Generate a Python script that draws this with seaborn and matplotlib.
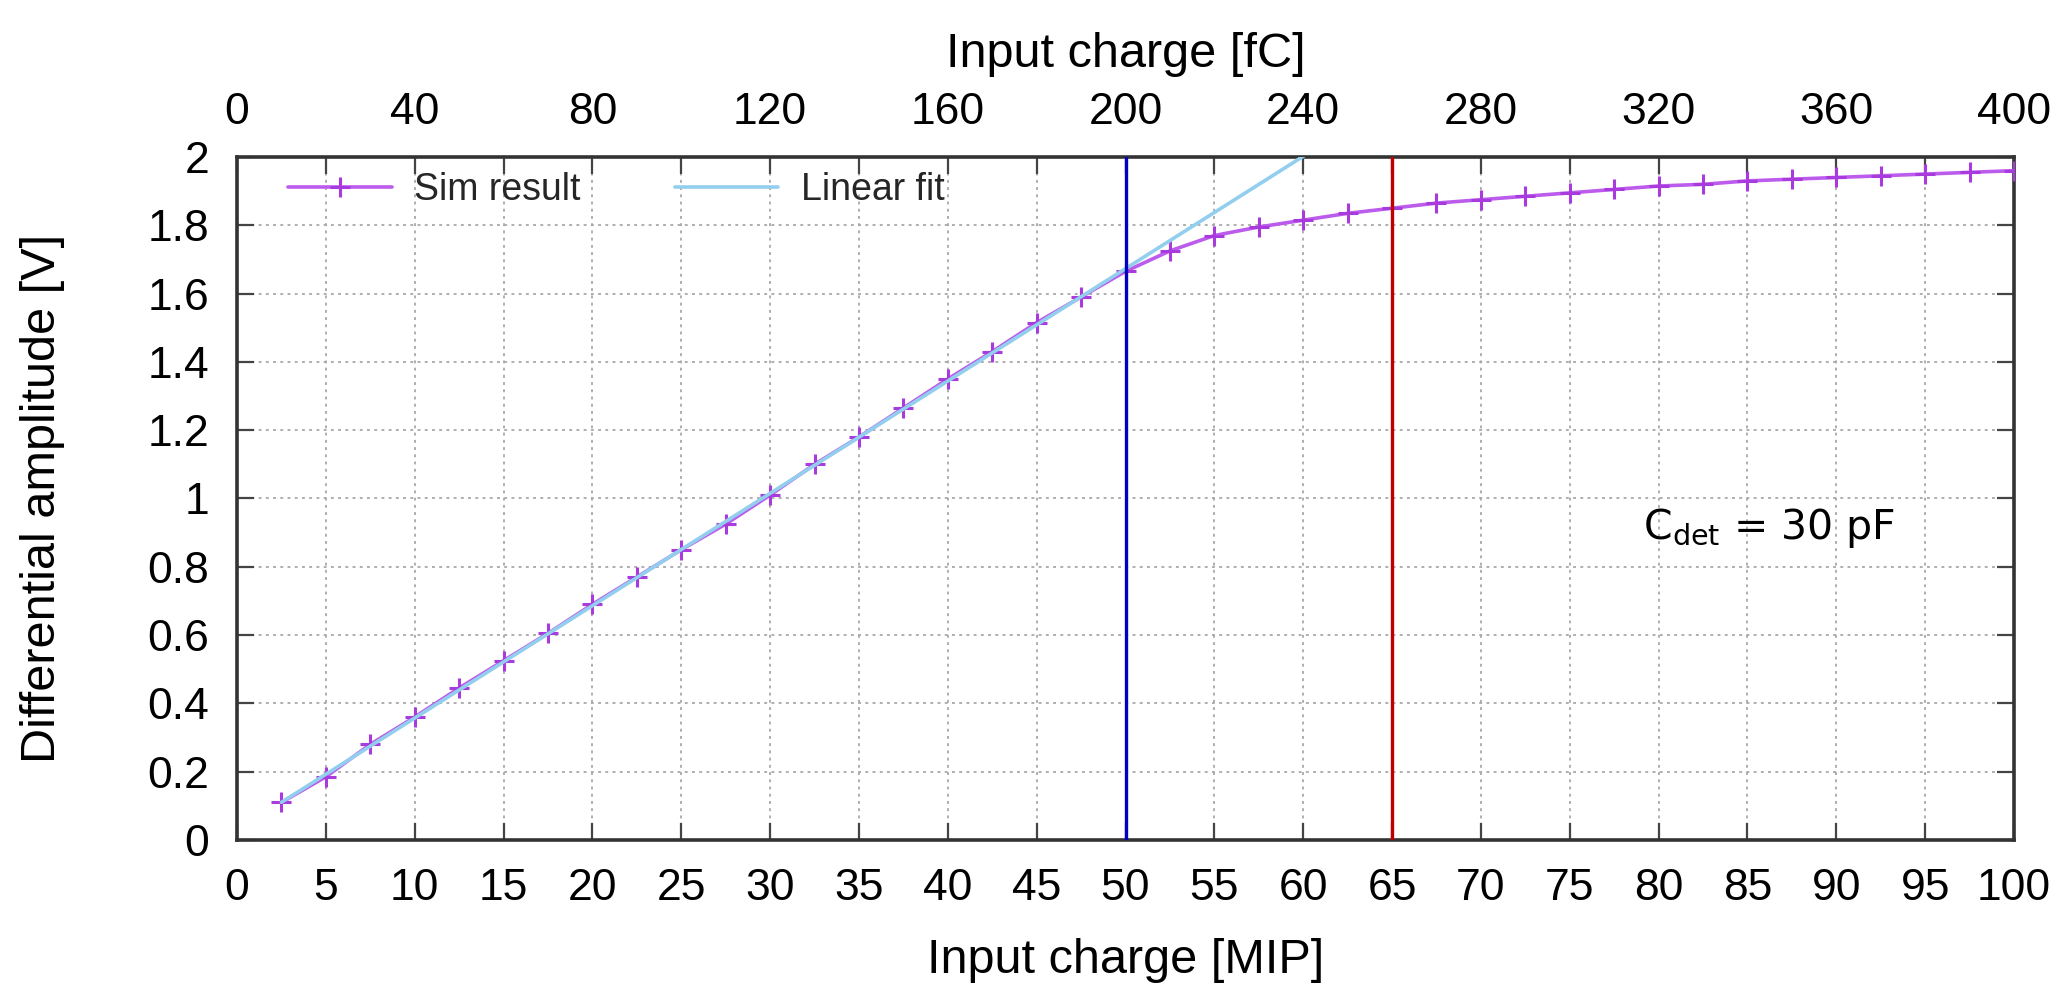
import numpy as np
import pandas as pd
import matplotlib.pyplot as plt
import seaborn as sns

sns.set_theme(style="ticks")
plt.rcParams['font.family'] = ['Liberation Sans', 'DejaVu Sans']

# simulated amplitude vs input charge (MIP)
charge_mip = [2.5, 5, 7.5, 10, 12.5, 15, 17.5, 20, 22.5, 25, 27.5, 30, 32.5, 35, 37.5,
              40, 42.5, 45, 47.5, 50, 52.5, 55, 57.5, 60, 62.5, 65, 67.5, 70, 72.5, 75,
              77.5, 80, 82.5, 85, 87.5, 90, 92.5, 95, 97.5, 100]
amplitude_v = [0.11, 0.185, 0.28, 0.36, 0.445, 0.525, 0.605, 0.69, 0.77, 0.85, 0.925, 1.01,
               1.10, 1.18, 1.265, 1.35, 1.43, 1.515, 1.59, 1.665, 1.725, 1.77, 1.795, 1.815,
               1.835, 1.85, 1.865, 1.875, 1.885, 1.895, 1.905, 1.915, 1.92, 1.93, 1.935,
               1.94, 1.945, 1.95, 1.955, 1.96]
fit_slope = 0.0329
fit_intercept = 0.028
fit_range = [2.5, 62]
mip_to_fc = 4.0
vlines_mip = [50, 65]
vline_colors = ['#0000c0', '#c00000']

df = pd.DataFrame({'MIP': charge_mip, 'Amp': amplitude_v})
fit_x = np.array(fit_range)
fit_df = pd.DataFrame({'MIP': fit_x, 'Amp': fit_slope * fit_x + fit_intercept})

fig = plt.figure(figsize=(20.68, 9.88), dpi=100)
ax = fig.add_axes([0.1146, 0.1498, 0.8593, 0.6913])

sim_col = '#bc5cec'
sns.lineplot(data=df, x='MIP', y='Amp', ax=ax, color=sim_col, lw=2.6,
             marker='+', markersize=15, markeredgewidth=2.2, markeredgecolor='#a83ade',
             label='Sim result', zorder=3)
sns.lineplot(data=fit_df, x='MIP', y='Amp', ax=ax, color='#92cfee', lw=2.6,
             label='Linear fit', zorder=4)
for xv, c in zip(vlines_mip, vline_colors):
    ax.axvline(xv, color=c, lw=2.4, zorder=5)

ax.set_xlim(0, 100)
ax.set_ylim(0, 2)
ax.set_xticks(np.arange(0, 101, 5))
ax.set_yticks(np.arange(0, 2.01, 0.2))
ax.set_yticklabels(['0', '0.2', '0.4', '0.6', '0.8', '1', '1.2', '1.4', '1.6', '1.8', '2'])
ax.grid(True, color='#a8a8a8', ls=(0, (1.6, 2.4)), lw=1.3)
ax.tick_params(direction='in', length=12, width=1.6, labelsize=32, pad=20,
               right=True, top=True, color='#444444', labelcolor='black')
for s in ax.spines.values():
    s.set_linewidth(2.6)
    s.set_color('#333333')
ax.set_xlabel('Input charge [MIP]', fontsize=35, color='black', va='top')
ax.xaxis.set_label_coords(0.5, -0.143)
ax.set_ylabel('Differential amplitude [V]', fontsize=35, color='black')
ax.yaxis.set_label_coords(-0.097, 0.5)

top = ax.secondary_xaxis('top', functions=(lambda m: m * mip_to_fc, lambda q: q / mip_to_fc))
top.set_xticks(np.arange(0, 401, 40))
top.tick_params(direction='in', length=0, labelsize=32, pad=17, labelcolor='black')
top.spines['top'].set_visible(False)
top.set_xlabel('Input charge [fC]', fontsize=35, labelpad=18, color='black')

ax.text(79.1, 0.913, r'C$_{\mathrm{det}}$ = 30 pF', fontsize=29.5, family='DejaVu Sans',
        va='center', ha='left', color='black')

ax.legend(loc='center left', bbox_to_anchor=(0.0287, 0.952), ncol=2, frameon=False,
          fontsize=27, handlelength=2.77, handletextpad=0.6, columnspacing=2.5,
          borderpad=0, borderaxespad=0)

fig.savefig('out.png', dpi=100)
